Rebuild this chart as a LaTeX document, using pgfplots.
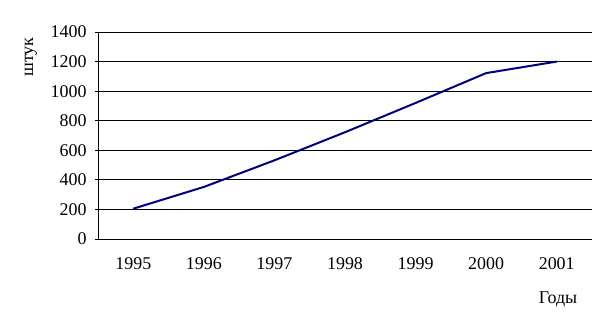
\documentclass[border=0pt]{standalone}
\usepackage{fontspec}
\setmainfont{Liberation Serif}
\usepackage{pgfplots}
\pgfplotsset{compat=1.18}
\begin{document}
\begin{tikzpicture}
\begin{axis}[
  at={(0,0)}, anchor=south west,
  scale only axis,
  width=494bp, height=207bp,
  xmin=-0.5, xmax=6.5, ymin=0, ymax=1400,
  axis x line*=bottom, axis y line*=left,
  axis line style={black, line width=0.9bp, -},
  xtick={0,1,2,3,4,5,6},
  xticklabels={1995,1996,1997,1998,1999,2000,2001},
  minor xtick={-0.5,0.5,1.5,2.5,3.5,4.5,5.5,6.5},
  ytick={0,200,...,1400},
  tick align=outside,
  major tick length=3bp,
  minor tick length=4bp,
  xtick style={draw=none},
  minor x tick style={black, line width=0.9bp},
  y tick style={black, line width=0.9bp},
  ymajorgrids,
  major grid style={black, line width=0.9bp},
  /pgf/number format/1000 sep={},
  /pgf/number format/assume math mode=true,
  tick label style={font=\fontsize{18}{21}\selectfont},
  xticklabel style={yshift=-12bp},
  yticklabel style={xshift=-5bp},
]
\addplot[color={rgb,255:red,0;green,0;blue,128}, line width=2bp] coordinates {
  (0,205) (1,352) (2,532) (3,722) (4,920) (5,1122) (6,1200)
};
\end{axis}
\node[rotate=90, font=\fontsize{18}{21}\selectfont] at (-67bp,182bp) {штук};
\node[font=\fontsize{18}{21}\selectfont] at (460bp,-60bp) {Годы};
\useasboundingbox (-98bp,-88bp) rectangle (510bp,239bp);
\end{tikzpicture}
\end{document}
